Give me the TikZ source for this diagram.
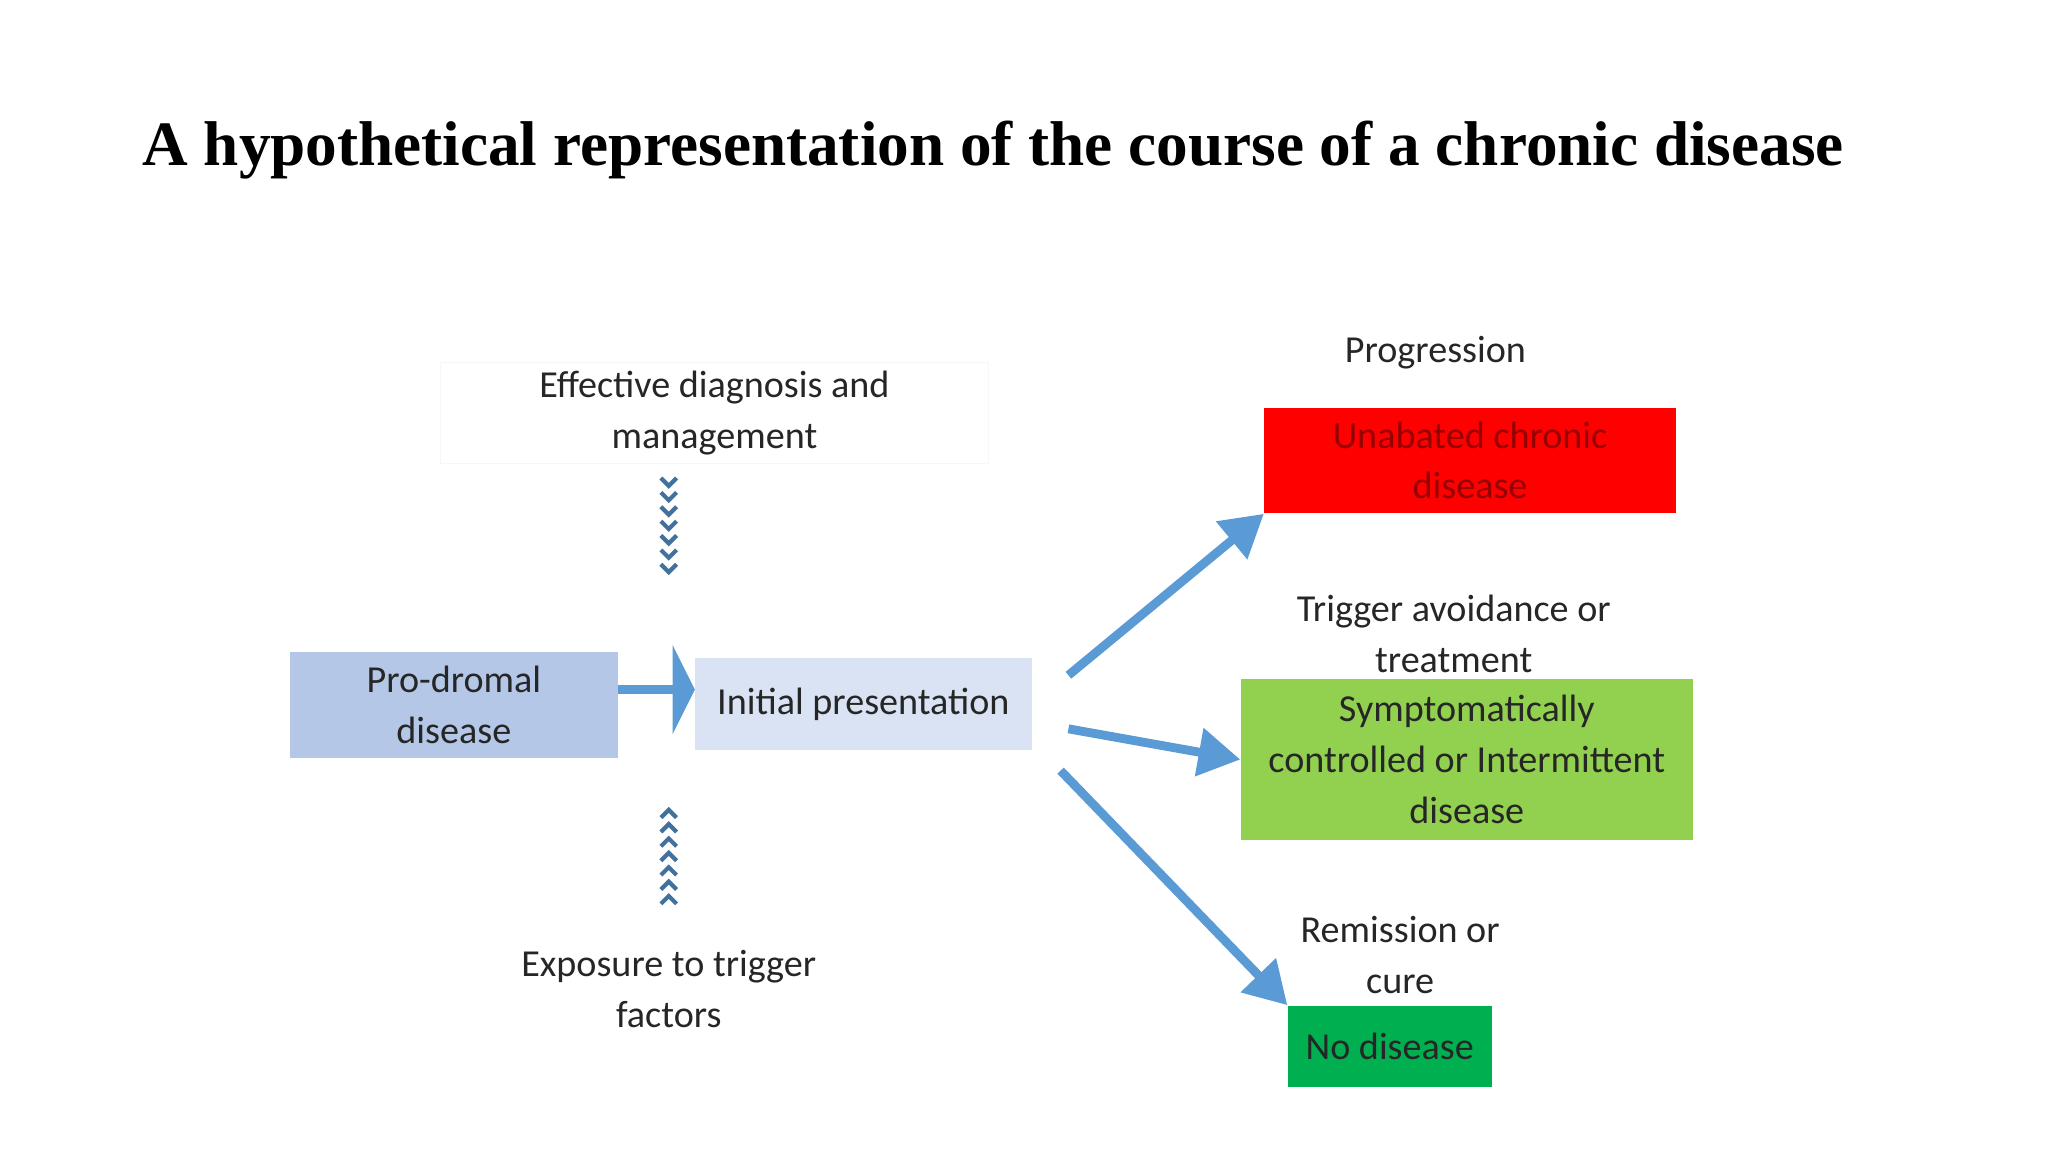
\documentclass[tikz,border=0pt]{standalone}
\usepackage{fontspec}
\setmainfont{Liberation Serif}
\newfontfamily\body{Carlito}
\usetikzlibrary{arrows.meta}
\definecolor{abl}{HTML}{5B9BD5}
\definecolor{abd}{HTML}{41719C}
\begin{document}
\begin{tikzpicture}[x=0.5pt,y=-0.5pt,
 txt/.style={font=\body\fontsize{14.6}{19.5}\selectfont,align=center,text=black!85},
 box/.style={txt,minimum width=#1,inner sep=0pt},
 bigarrow/.style={draw=abl,line width=3.4pt,-{Triangle[length=16pt,width=18pt,fill=abl]},shorten >=0pt},
 chev/.style={abd,line width=1.6pt}]
\path[use as bounding box] (0,0) rectangle (1568,882);
\node[anchor=west,font=\bfseries\fontsize{24.2}{30}\selectfont] (title) at (102,115) {A hypothetical representation of the course of a chronic disease};
\node[box=125.5pt,minimum height=40.5pt,fill={rgb,255:red,180;green,199;blue,231}] (pro) at (347.5,539.5) {Pro-dromal\\disease};
\node[box=129pt,minimum height=35pt,fill={rgb,255:red,218;green,227;blue,243}] (init) at (661,539) {Initial presentation};
\node[txt,draw=black!3,minimum width=210pt,minimum height=38pt] (eff) at (547,316) {Effective diagnosis and\\management};
\node[txt] (exp) at (512,757) {Exposure to trigger\\factors};
\node[txt] (prog) at (1099,270) {Progression};
\node[box=157.5pt,minimum height=40.5pt,fill=red,text={rgb,255:red,150;green,0;blue,0}] (red) at (1125.5,352.5) {Unabated chronic\\disease};
\node[txt] (trig) at (1113,485) {Trigger avoidance or\\treatment};
\node[box=173pt,minimum height=61.5pt,fill={rgb,255:red,146;green,208;blue,80}] (grn) at (1123,581.5) {Symptomatically\\controlled or Intermittent\\disease};
\node[txt] (rem) at (1072,731) {Remission or\\cure};
\node[box=78pt,minimum height=31pt,fill={rgb,255:red,0;green,176;blue,80},anchor=center] (nod) at (1064,801) {No disease};
% arrow pro -> init
\coordinate (a0) at (473,528);
\draw[abl,line width=3.5pt] (a0) -- (516,528);
\fill[abl] (515,494) -- (532,528) -- (515,562) -- cycle;
% chevrons
\foreach \y in {370,381,392,403,414,425,436}
  \draw[chev] (506,\y-4) -- (512,\y+2) -- (518,\y-4);
\foreach \y in {624,635,646,657,668,679,690}
  \draw[chev] (506,\y+2) -- (512,\y-4) -- (518,\y+2);
% branch arrows
\coordinate (b1) at (818,517); \coordinate (b2) at (818,558); \coordinate (b3) at (812,590);
\draw[bigarrow] (b1) -- (red.south west);
\draw[bigarrow] (b2) -- (grn.west);
\draw[bigarrow] (b3) -- (nod.north west);
\end{tikzpicture}
\end{document}
